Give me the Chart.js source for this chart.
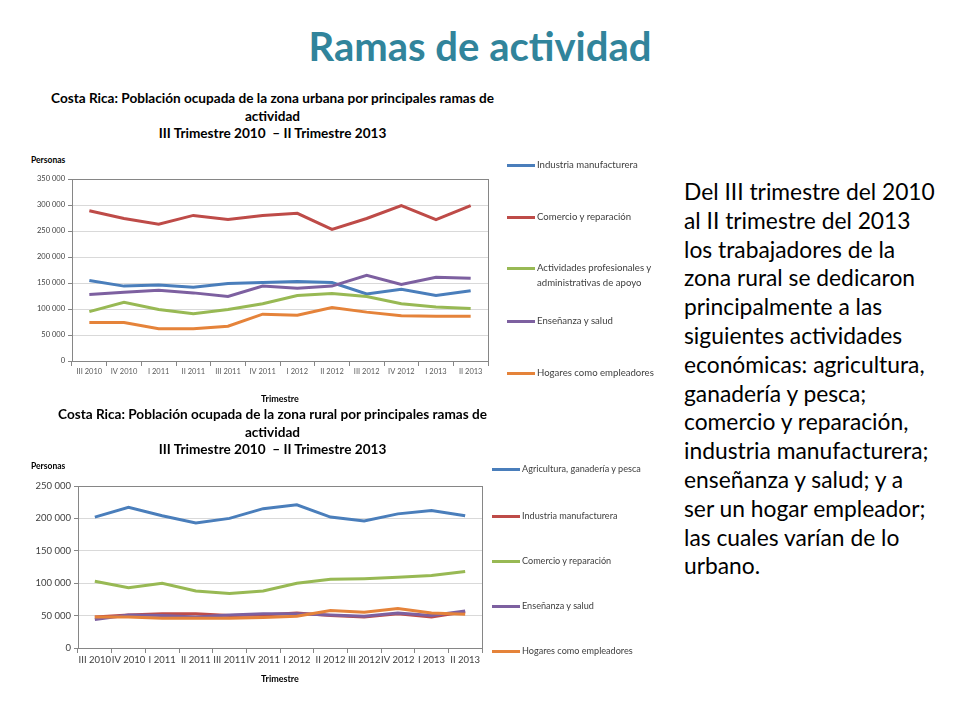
<!DOCTYPE html>
<html>
<head>
<meta charset="utf-8">
<script src="https://cdn.jsdelivr.net/npm/chart.js@4"></script>
<style>
    body { margin: 0; width: 960px; height: 720px; background: #fff; position: relative; font-family: Lato, "Open Sans", sans-serif; overflow: hidden; }
    .abs { position: absolute; white-space: nowrap; }
    #titulo { left: 0; width: 960px; top: 22px; text-align: center; color: #31849B; font-weight: bold; font-size: 40px; }
    .ctitle { left: 25px; width: 495px; text-align: center; font-weight: bold; font-size: 13.6px; line-height: 17.5px; color: #000; }
    .yt { font-weight: bold; font-size: 8.5px; color: #000; }
    .leg { color: #404040; line-height: 14.5px; }
    .leg span { display: inline-block; width: 28px; height: 3px; vertical-align: middle; margin-right: 2px; }
    #texto { left: 684px; top: 177px; font-size: 22.8px; line-height: 28.8px; color: #000; }
</style>
</head>
<body>
<div id="titulo" class="abs">Ramas de actividad</div>

<div class="abs ctitle" style="top:90px">Costa Rica: Población ocupada de la zona urbana por principales ramas de<br>actividad<br>III Trimestre 2010 &nbsp;– II Trimestre 2013</div>
<div class="abs yt" style="left:31px;top:155px">Personas</div>
<canvas id="urbana" class="abs" style="left:30px;top:170px"></canvas>
<div id="legUrbana"></div>

<div class="abs ctitle" style="top:406px">Costa Rica: Población ocupada de la zona rural por principales ramas de<br>actividad<br>III Trimestre 2010 &nbsp;– II Trimestre 2013</div>
<div class="abs yt" style="left:31px;top:461px">Personas</div>
<canvas id="rural" class="abs" style="left:30px;top:476px"></canvas>
<div id="legRural"></div>

<div id="texto" class="abs">Del III trimestre del 2010<br>al II trimestre del 2013<br>los trabajadores de la<br>zona rural se dedicaron<br>principalmente a las<br>siguientes actividades<br>económicas: agricultura,<br>ganadería y pesca;<br>comercio y reparación,<br>industria manufacturera;<br>enseñanza y salud; y a<br>ser un hogar empleador;<br>las cuales varían de lo<br>urbano.</div>

<script>
var trimestres = ["III 2010", "IV 2010", "I 2011", "II 2011", "III 2011", "IV 2011", "I 2012", "II 2012", "III 2012", "IV 2012", "I 2013", "II 2013"];

// zona urbana
var urbIndustria = [155000, 144000, 146000, 142000, 149000, 151000, 153000, 151000, 129000, 138000, 126000, 135000];
var urbComercio = [289000, 274000, 263000, 280000, 272000, 280000, 284000, 253000, 274000, 299000, 272000, 299000];
var urbActividades = [95000, 113000, 99000, 91000, 99000, 110000, 126000, 130000, 124000, 110000, 104000, 101000];
var urbEnsenanza = [128000, 132000, 136000, 131000, 124000, 144000, 140000, 144000, 165000, 147000, 161000, 159000];
var urbHogares = [74000, 74000, 62000, 62000, 67000, 90000, 88000, 103000, 94000, 87000, 86000, 86000];

// zona rural
var rurAgricultura = [202000, 217000, 204000, 193000, 200000, 215000, 221000, 202000, 196000, 207000, 212000, 204000];
var rurIndustria = [48000, 51000, 53000, 53000, 50000, 51000, 54000, 50000, 48000, 53000, 48000, 56000];
var rurComercio = [103000, 93000, 100000, 88000, 84000, 88000, 100000, 106000, 107000, 109000, 112000, 118000];
var rurEnsenanza = [44000, 51000, 50000, 48000, 51000, 53000, 53000, 51000, 49000, 54000, 50000, 57000];
var rurHogares = [48000, 48000, 46000, 46000, 46000, 47000, 49000, 58000, 55000, 61000, 54000, 52000];

var azul = "#4A7EBB", rojo = "#BE4B48", verde = "#98B954", morado = "#7D60A0", naranja = "#E5833A";

function miles(v) {
    return String(v).replace(/\B(?=(\d{3})+(?!\d))/g, " ");
}

// marco gris alrededor del area de trazado (como en Excel)
var marco = {
    id: 'marco',
    afterDraw: function (chart) {
        var a = chart.chartArea;
        var ctx = chart.ctx;
        ctx.save();
        ctx.strokeStyle = "#868686";
        ctx.lineWidth = 1;
        ctx.strokeRect(Math.round(a.left) + 0.5, Math.round(a.top) + 0.5, Math.round(a.right - a.left), Math.round(a.bottom - a.top));
        ctx.restore();
    }
};

function hacerChart(id, w, h, series, ymax, cfg) {
    var canvas = document.getElementById(id);
    canvas.width = w;
    canvas.height = h;
    canvas.style.width = w + "px";
    canvas.style.height = h + "px";
    var datasets = [];
    for (var i = 0; i < series.length; i++) {
        datasets.push({
            label: series[i].label,
            data: series[i].data,
            borderColor: series[i].color,
            backgroundColor: series[i].color,
            borderWidth: 3,
            pointRadius: 0,
            tension: 0,
            order: series.length - i
        });
    }
    return new Chart(canvas, {
        type: 'line',
        data: { labels: trimestres, datasets: datasets },
        plugins: [marco],
        options: {
            responsive: false,
            animation: false,
            layout: { padding: { top: cfg.padTop, right: cfg.padRight, left: 0, bottom: 0 } },
            plugins: { legend: { display: false }, title: { display: false }, tooltip: { enabled: false } },
            scales: {
                x: {
                    offset: true,
                    grid: { offset: true, drawOnChartArea: false, drawTicks: true, tickLength: 5, color: "#868686" },
                    border: { color: "#868686" },
                    ticks: { autoSkip: false, maxRotation: 0, minRotation: 0, padding: 1, color: cfg.xColor, font: { family: "Lato", size: cfg.xSize } },
                    title: { display: true, text: "Trimestre", color: "#000", font: { family: "Lato", size: 9, weight: 'bold' }, padding: { top: 2, bottom: cfg.titleBottom } },
                    afterFit: function (s) { s.height = cfg.xHeight; }
                },
                y: {
                    min: 0,
                    max: ymax,
                    grid: { color: "#D9D9D9", tickColor: "#868686", tickLength: 4 },
                    border: { color: "#868686" },
                    ticks: { stepSize: 50000, padding: 3, color: "#404040", font: { family: "Lato", size: cfg.ySize }, callback: function (v) { return miles(v); } },
                    afterFit: function (s) { s.width = cfg.yWidth; }
                }
            }
        }
    });
}

function leyenda(id, series, x, ys, size) {
    var cont = document.getElementById(id);
    for (var i = 0; i < series.length; i++) {
        var d = document.createElement("div");
        d.className = "abs leg";
        d.style.left = x + "px";
        d.style.top = (ys[i] - 7) + "px";
        d.style.fontSize = size + "px";
        d.innerHTML = '<span style="background:' + series[i].color + '"></span>' + series[i].label.replace("\n", '<br><span style="background:transparent"></span>');
        cont.appendChild(d);
    }
}

var seriesUrb = [
    { label: "Industria manufacturera", data: urbIndustria, color: azul },
    { label: "Comercio y reparación", data: urbComercio, color: rojo },
    { label: "Actividades profesionales y\nadministrativas de apoyo", data: urbActividades, color: verde },
    { label: "Enseñanza y salud", data: urbEnsenanza, color: morado },
    { label: "Hogares como empleadores", data: urbHogares, color: naranja }
];
var seriesRur = [
    { label: "Agricultura, ganadería y pesca", data: rurAgricultura, color: azul },
    { label: "Industria manufacturera", data: rurIndustria, color: rojo },
    { label: "Comercio y reparación", data: rurComercio, color: verde },
    { label: "Enseñanza y salud", data: rurEnsenanza, color: morado },
    { label: "Hogares como empleadores", data: rurHogares, color: naranja }
];

hacerChart("urbana", 490, 240, seriesUrb, 350000, { padTop: 9, padRight: 32, yWidth: 42, xHeight: 49, xSize: 7.5, ySize: 7.5, xColor: "#595959", titleBottom: 6 });
hacerChart("rural", 490, 214, seriesRur, 250000, { padTop: 10, padRight: 38, yWidth: 48, xHeight: 42, xSize: 9.5, ySize: 9.5, xColor: "#404040", titleBottom: 6 });

leyenda("legUrbana", seriesUrb, 507, [165, 217, 268, 321, 373], 9.6);
leyenda("legRural", seriesRur, 492, [469, 516, 561, 606, 651], 9.1);
</script>
</body>
</html>
